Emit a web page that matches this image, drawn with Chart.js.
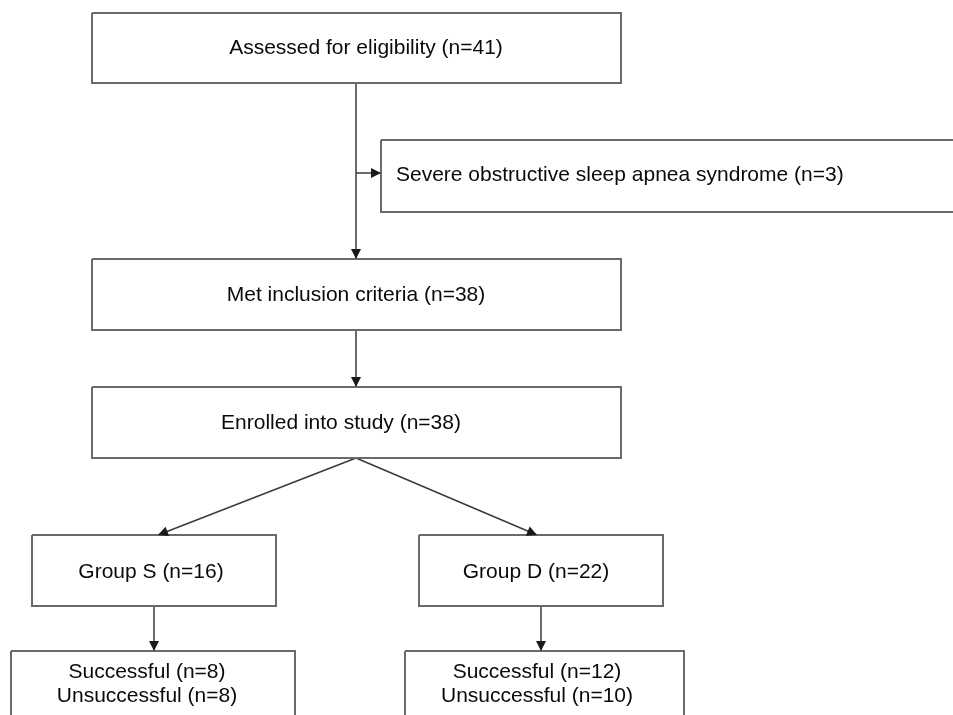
<!DOCTYPE html>
<html>
<head>
<meta charset="utf-8">
<script src="https://cdn.jsdelivr.net/npm/chart.js@4/dist/chart.umd.min.js"></script>
<style>
  html, body { margin: 0; padding: 0; background: #ffffff; }
  #wrap { width: 953px; height: 715px; position: relative; }
</style>
</head>
<body>
<div id="wrap"><canvas id="c"></canvas></div>
<script>
// ---- Flowchart content (in chart units: x 0..953, y 0..715 top-down) ----
const boxText = [
  ["Assessed for eligibility (n=41)"],
  ["Severe obstructive sleep apnea syndrome (n=3)"],
  ["Met inclusion criteria (n=38)"],
  ["Enrolled into study (n=38)"],
  ["Group S (n=16)"],
  ["Group D (n=22)"],
  ["Successful (n=8)", "Unsuccessful (n=8)"],
  ["Successful (n=12)", "Unsuccessful (n=10)"]
];
const boxLeft   = [92, 381, 92, 92, 32, 419, 11, 405];
const boxRight  = [621, 980, 621, 621, 276, 663, 295, 684];
const boxTop    = [13, 140, 259, 387, 535, 535, 651, 651];
const boxBottom = [83, 212, 330, 458, 606, 606, 760, 760];
const textX     = [366, 396, 356, 341, 151, 536, 147, 537];
const textY     = [48, 175, 295, 423, 572, 572, 672, 672];
const textAlign = ["center", "left", "center", "center", "center", "center", "center", "center"];

// connectors: start point -> end point (arrowhead at end)
const linkFromX = [356, 356, 356, 356, 356, 154, 541];
const linkFromY = [83, 173, 330, 458, 458, 606, 606];
const linkToX   = [356, 381, 356, 158, 537, 154, 541];
const linkToY   = [259, 173, 387, 535, 535, 651, 651];

const datasets = [];
for (let i = 0; i < boxText.length; i++) {
  datasets.push({
    label: 'box' + i,
    data: [
      {x: boxLeft[i], y: boxTop[i]},
      {x: boxRight[i], y: boxTop[i]},
      {x: boxRight[i], y: boxBottom[i]},
      {x: boxLeft[i], y: boxBottom[i]},
      {x: boxLeft[i], y: boxTop[i]}
    ],
    showLine: true, borderColor: '#6a6a6a', borderWidth: 2,
    pointRadius: 0, fill: false, tension: 0, clip: false
  });
}
for (let i = 0; i < linkFromX.length; i++) {
  datasets.push({
    label: 'link' + i,
    data: [{x: linkFromX[i], y: linkFromY[i]}, {x: linkToX[i], y: linkToY[i]}],
    showLine: true, borderColor: '#3a3a3a', borderWidth: 1.5,
    pointRadius: 0, fill: false, tension: 0, clip: false
  });
}

const flowPlugin = {
  id: 'flow',
  afterDatasetsDraw(chart) {
    const ctx = chart.ctx;
    const xs = chart.scales.x, ys = chart.scales.y;
    // arrowheads
    ctx.save();
    ctx.fillStyle = '#1a1a1a';
    for (let i = 0; i < linkFromX.length; i++) {
      const x0 = xs.getPixelForValue(linkFromX[i]), y0 = ys.getPixelForValue(linkFromY[i]);
      const x1 = xs.getPixelForValue(linkToX[i]), y1 = ys.getPixelForValue(linkToY[i]);
      const a = Math.atan2(y1 - y0, x1 - x0);
      const L = 10, W = 5;
      ctx.beginPath();
      ctx.moveTo(x1, y1);
      ctx.lineTo(x1 - L * Math.cos(a) + W * Math.sin(a), y1 - L * Math.sin(a) - W * Math.cos(a));
      ctx.lineTo(x1 - L * Math.cos(a) - W * Math.sin(a), y1 - L * Math.sin(a) + W * Math.cos(a));
      ctx.closePath();
      ctx.fill();
    }
    // texts
    ctx.fillStyle = '#0a0a0a';
    ctx.font = '21px "Liberation Sans", Arial, sans-serif';
    ctx.textBaseline = 'middle';
    for (let i = 0; i < boxText.length; i++) {
      ctx.textAlign = textAlign[i];
      const px = xs.getPixelForValue(textX[i]);
      boxText[i].forEach((t, k) => {
        const py = ys.getPixelForValue(textY[i]) + k * 24;
        ctx.fillText(t, px, py);
      });
    }
    ctx.restore();
  }
};

new Chart(document.getElementById('c'), {
  type: 'scatter',
  data: { datasets },
  options: {
    responsive: true,
    maintainAspectRatio: false,
    animation: false,
    layout: { padding: 0 },
    plugins: { legend: { display: false }, tooltip: { enabled: false } },
    scales: {
      x: { type: 'linear', min: 0, max: 953, display: false },
      y: { type: 'linear', min: 0, max: 715, reverse: true, display: false }
    }
  },
  plugins: [flowPlugin]
});
</script>
</body>
</html>
